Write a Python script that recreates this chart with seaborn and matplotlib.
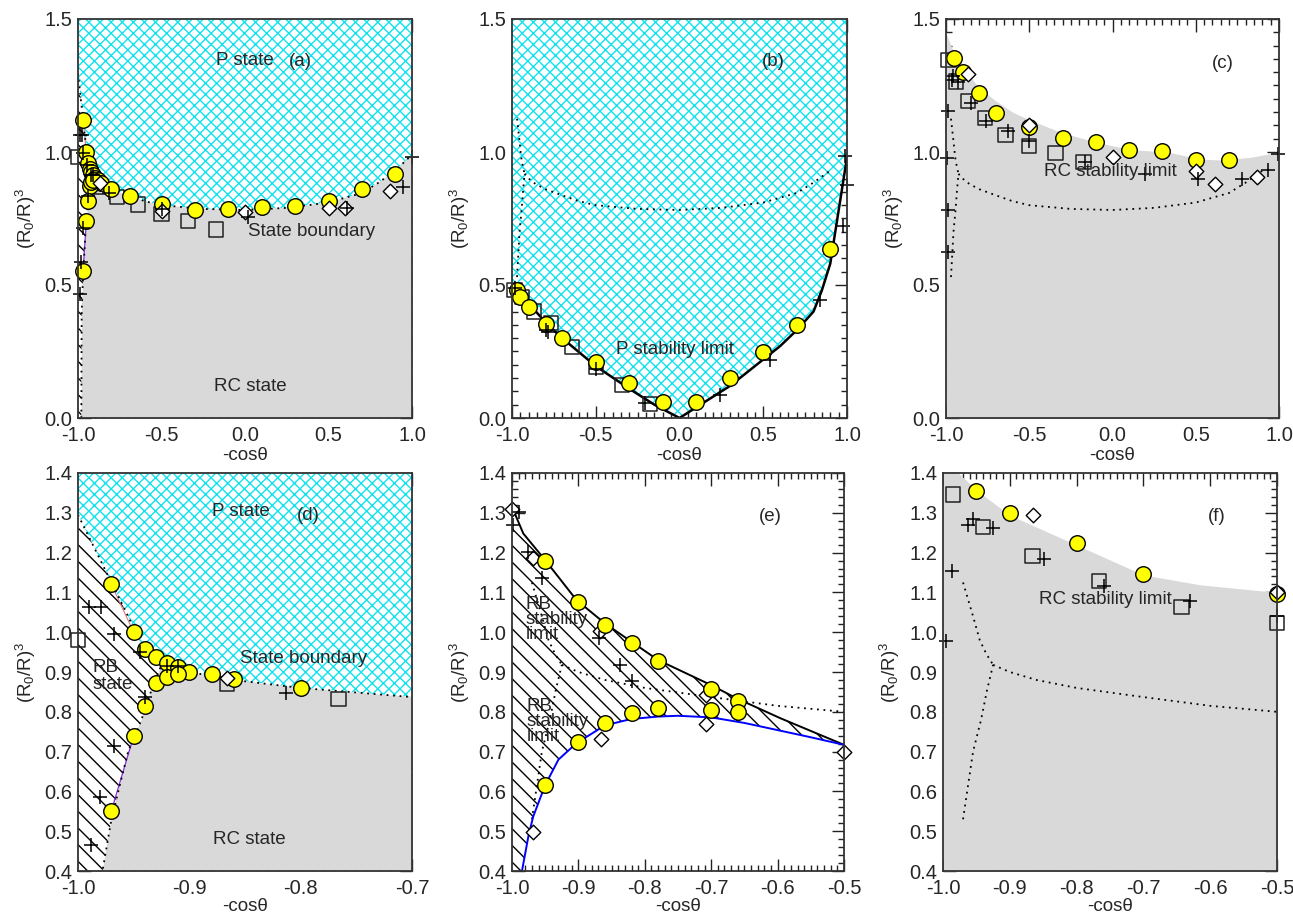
import numpy as np
import matplotlib
matplotlib.use("Agg")
import matplotlib.pyplot as plt
import seaborn as sns
from matplotlib.ticker import MultipleLocator, FormatStrFormatter

# ---------------- data ----------------
# state boundaries (panels a, d) ; drawn dotted in the other panels
rbp_x = [-1.0, -0.985, -0.97, -0.955, -0.945, -0.935, -0.925]
rbp_y = [1.295, 1.21, 1.125, 1.04, 0.98, 0.945, 0.918]
rbrc_x = [-0.98, -0.978, -0.97, -0.955, -0.943, -0.934, -0.925]
rbrc_y = [0.0, 0.40, 0.53, 0.70, 0.78, 0.855, 0.918]
prc_x = [-0.925, -0.9, -0.86, -0.8, -0.7, -0.6, -0.5, -0.25, 0.0, 0.25, 0.5, 0.7, 0.8, 0.9, 1.0]
prc_y = [0.918, 0.90, 0.88, 0.86, 0.837, 0.815, 0.80, 0.786, 0.782, 0.79, 0.81, 0.846, 0.885, 0.93, 0.99]

# state boundary simulation points (a, d)
sb_circ_x = [-0.97, -0.95, -0.94, -0.93, -0.92, -0.91, -0.90, -0.88, -0.86, -0.93, -0.92, -0.91,
             -0.94, -0.95, -0.97, -0.80, -0.69, -0.50, -0.30, -0.10, 0.10, 0.30, 0.50, 0.70, 0.90]
sb_circ_y = [1.12, 1.00, 0.958, 0.937, 0.923, 0.913, 0.901, 0.895, 0.882, 0.873, 0.887, 0.894,
             0.815, 0.739, 0.551, 0.861, 0.835, 0.805, 0.782, 0.786, 0.792, 0.798, 0.817, 0.861, 0.917]
sb_sq_x = [-1.0, -0.866, -0.766, -0.643, -0.5, -0.342, -0.174]
sb_sq_y = [0.98, 0.87, 0.832, 0.803, 0.766, 0.742, 0.709]
sb_dia_x = [-0.866, -0.5, 0.0, 0.5, 0.6, 0.866]
sb_dia_y = [0.885, 0.78, 0.773, 0.788, 0.788, 0.855]
sb_plus_x = [-0.99, -0.979, -0.968, -0.944, -0.94, -0.968, -0.98, -0.988, -0.92, -0.91,
             -0.813, -0.5, 0.017, 0.61, 0.948, 1.0]
sb_plus_y = [1.064, 1.064, 0.995, 0.95, 0.836, 0.715, 0.587, 0.465, 0.915, 0.915,
             0.847, 0.785, 0.757, 0.788, 0.867, 0.98]
red_x = [-0.97, -0.95]
red_y = [1.12, 1.00]
purple_x = [-0.97, -0.95]
purple_y = [0.551, 0.739]

# P stability limit (b)
pl_x = [-1.0, -0.9, -0.8, -0.7, -0.5, -0.3, -0.15, 0.0, 0.1, 0.2, 0.3, 0.5, 0.6, 0.7, 0.8, 0.85, 0.9, 0.95, 1.0]
pl_y = [0.50, 0.43, 0.36, 0.30, 0.195, 0.11, 0.05, 0.0, 0.04, 0.08, 0.12, 0.22, 0.27, 0.33, 0.40, 0.48, 0.58, 0.78, 0.98]
pl_circ_x = [-0.97, -0.95, -0.9, -0.8, -0.7, -0.5, -0.3, -0.1, 0.1, 0.3, 0.5, 0.7, 0.9]
pl_circ_y = [0.48, 0.455, 0.418, 0.352, 0.30, 0.212, 0.13, 0.061, 0.061, 0.149, 0.249, 0.35, 0.634]
pl_sq_x = [-0.985, -0.94, -0.87, -0.766, -0.643, -0.5, -0.342, -0.174]
pl_sq_y = [0.48, 0.456, 0.40, 0.356, 0.268, 0.193, 0.124, 0.053]
pl_plus_x = [-0.98, -0.8, -0.783, -0.5, -0.206, 0.242, 0.54, 0.84, 0.975, 1.0, 0.988]
pl_plus_y = [0.49, 0.33, 0.325, 0.186, 0.055, 0.086, 0.218, 0.444, 0.72, 0.876, 0.985]

# RC stability limit (c, f)
rc_top_c_x = [-1.0, -0.95, -0.876, -0.8, -0.696, -0.6, -0.496, -0.297, -0.075, 0.126, 0.33, 0.53, 0.65, 0.83, 1.0]
rc_top_c_y = [1.446, 1.37, 1.30, 1.24, 1.19, 1.15, 1.12, 1.071, 1.033, 1.008, 1.0, 0.973, 0.97, 0.98, 1.0]
rc_top_f_x = [-1.0, -0.977, -0.95, -0.9, -0.8, -0.7, -0.615, -0.5]
rc_top_f_y = [1.44, 1.40, 1.357, 1.294, 1.219, 1.144, 1.119, 1.10]
rc_circ_x = [-0.95, -0.9, -0.8, -0.7, -0.5, -0.3, -0.1, 0.1, 0.3, 0.5, 0.7]
rc_circ_y = [1.355, 1.30, 1.223, 1.147, 1.095, 1.051, 1.039, 1.008, 1.005, 0.97, 0.97]
rc_sq_x = [-0.985, -0.94, -0.866, -0.766, -0.643, -0.5, -0.342, -0.174]
rc_sq_y = [1.346, 1.265, 1.191, 1.129, 1.063, 1.024, 0.995, 0.961]
rc_dia_x = [-0.866, -0.5, 0.0, 0.5, 0.616, 0.866]
rc_dia_y = [1.294, 1.10, 0.98, 0.93, 0.88, 0.905]
rc_plus_x = [-0.995, -0.987, -0.962, -0.955, -0.925, -0.849, -0.759, -0.63, -0.5,
             -0.165, 0.195, 0.515, 0.776, 0.936, 0.996]
rc_plus_y = [0.978, 1.154, 1.269, 1.285, 1.263, 1.184, 1.116, 1.078, 1.04,
             0.964, 0.918, 0.90, 0.90, 0.933, 0.993]
rc_plus_c_extra_x = [-0.986, -0.986]
rc_plus_c_extra_y = [0.782, 0.625]

# RB stability limits (e)
rb_up_x = [-1.0, -0.983, -0.95, -0.903, -0.86, -0.82, -0.78, -0.70, -0.662, -0.596, -0.5]
rb_up_y = [1.315, 1.248, 1.181, 1.081, 1.022, 0.976, 0.93, 0.867, 0.834, 0.784, 0.717]
rb_lo_x = [-0.985, -0.975, -0.968, -0.95, -0.93, -0.903, -0.86, -0.82, -0.78, -0.75, -0.70, -0.65, -0.60, -0.55, -0.5]
rb_lo_y = [0.40, 0.49, 0.537, 0.616, 0.68, 0.721, 0.766, 0.782, 0.788, 0.790, 0.786, 0.772, 0.754, 0.736, 0.717]
rb_circ_x = [-0.95, -0.9, -0.86, -0.82, -0.78, -0.70, -0.66, -0.66, -0.70, -0.78, -0.82, -0.86, -0.90, -0.95]
rb_circ_y = [1.179, 1.077, 1.018, 0.974, 0.928, 0.857, 0.827, 0.80, 0.805, 0.809, 0.796, 0.773, 0.725, 0.616]
rb_dia_x = [-1.0, -0.968, -0.867, -0.708, -0.708, -0.866, -0.968, -0.5]
rb_dia_y = [1.309, 1.186, 1.004, 0.842, 0.769, 0.731, 0.499, 0.698]
rb_plus_x = [-0.99, -0.998, -0.976, -0.955, -0.869, -0.837, -0.82]
rb_plus_y = [1.303, 1.27, 1.202, 1.135, 0.985, 0.918, 0.878]

# ---------------- style ----------------
sns.set_style("ticks")
plt.rcParams["font.family"] = ["Liberation Sans", "DejaVu Sans"]
plt.rcParams["mathtext.fontset"] = "custom"
plt.rcParams["mathtext.rm"] = "Liberation Sans"
plt.rcParams["mathtext.it"] = "Liberation Sans"
plt.rcParams["mathtext.default"] = "regular"
plt.rcParams["axes.unicode_minus"] = False
plt.rcParams["hatch.linewidth"] = 1.0

CYAN = "#12e2ee"
GRAY = "#d9d9d9"
FS = 13.5
TFS = 14.5

fig = plt.figure(figsize=(12.93, 9.13), dpi=100)
W, H = 1293.0, 913.0


def mkax(l, r, t, b):
    return fig.add_axes([l / W, 1 - b / H, (r - l) / W, (b - t) / H])


ax_a = mkax(78, 412, 19, 418)
ax_b = mkax(512, 847, 19, 418)
ax_c = mkax(946, 1279, 19, 418)
ax_d = mkax(78, 412, 473, 871)
ax_e = mkax(512, 844, 473, 871)
ax_f = mkax(943, 1277, 473, 871)


def style(ax, xlim, ylim, xmaj, xmin, ymaj, ymin, xpad, lpad):
    ax.set_xlim(xlim)
    ax.set_ylim(ylim)
    ax.xaxis.set_major_locator(MultipleLocator(xmaj))
    ax.xaxis.set_minor_locator(MultipleLocator(xmin))
    ax.yaxis.set_major_locator(MultipleLocator(ymaj))
    ax.yaxis.set_minor_locator(MultipleLocator(ymin))
    ax.xaxis.set_major_formatter(FormatStrFormatter("%.1f"))
    ax.yaxis.set_major_formatter(FormatStrFormatter("%.1f"))
    ax.tick_params(which="both", direction="in", top=True, right=True, width=1.0,
                   color="#222222", labelsize=TFS)
    ax.tick_params(axis="x", which="both", pad=xpad)
    ax.tick_params(axis="y", which="both", pad=4)
    ax.tick_params(which="major", length=9)
    ax.tick_params(which="minor", length=4.5)
    for s in ax.spines.values():
        s.set_linewidth(1.3)
        s.set_color("#333333")
        s.set_zorder(20)
    ax.set_xlabel("-cos\u03b8", fontsize=FS, labelpad=lpad)
    ax.set_ylabel(r"(R$_0$/R)$^3$", fontsize=FS, labelpad=5)


TOP = dict(xpad=6, lpad=1.5)
BOT = dict(xpad=5.5, lpad=0.5)


def inside(ax, x, y):
    x = np.asarray(x, float)
    y = np.asarray(y, float)
    x0, x1 = ax.get_xlim()
    y0, y1 = ax.get_ylim()
    tx = 0.012 * (x1 - x0)
    ty = 0.012 * (y1 - y0)
    m = (x >= x0 - tx) & (x <= x1 + tx) & (y >= y0 - ty) & (y <= y1 + ty)
    return x[m], y[m]


def circles(ax, x, y, z=6):
    x, y = inside(ax, x, y)
    sns.scatterplot(x=x, y=y, ax=ax, marker="o", s=125, color="#ffff00",
                    edgecolor="black", linewidth=1.0, zorder=z, clip_on=False, legend=False)


def squares(ax, x, y, z=5):
    x, y = inside(ax, x, y)
    sns.scatterplot(x=x, y=y, ax=ax, marker="s", s=105, facecolor="none",
                    edgecolor="#222222", linewidth=1.1, zorder=z, clip_on=False, legend=False)


def diamonds(ax, x, y, z=7):
    x, y = inside(ax, x, y)
    sns.scatterplot(x=x, y=y, ax=ax, marker="D", s=55, facecolor="white",
                    edgecolor="black", linewidth=1.0, zorder=z, clip_on=False, legend=False)


def pluses(ax, x, y, z=8):
    x, y = inside(ax, x, y)
    sns.scatterplot(x=x, y=y, ax=ax, marker="+", s=100, color="black",
                    linewidth=1.1, zorder=z, clip_on=False, legend=False)


def line(ax, x, y, **kw):
    sns.lineplot(x=x, y=y, ax=ax, sort=False, estimator=None, legend=False, **kw)


DOT = dict(color="black", linewidth=1.3, linestyle=(0, (1, 2.6)), zorder=4)


def state_regions(ax):
    # P state (cyan cross hatch)
    px = rbp_x + prc_x[1:] + [1.0, -1.0]
    py = rbp_y + prc_y[1:] + [1.5, 1.5]
    ax.fill(px, py, facecolor="white", edgecolor=CYAN, hatch="xxx", linewidth=0, zorder=1)
    # RC state (gray)
    cx = rbrc_x + prc_x[1:] + [1.0]
    cy = rbrc_y + prc_y[1:] + [0.0]
    ax.fill(cx, cy, facecolor=GRAY, edgecolor="none", linewidth=0, zorder=1)
    # RB state (black hatch)
    bx = [-1.0] + rbrc_x + rbp_x[-2::-1]
    by = [0.0] + rbrc_y + rbp_y[-2::-1]
    ax.fill(bx, by, facecolor="white", edgecolor="black", hatch="\\\\", linewidth=0, zorder=1)
    line(ax, rbp_x, rbp_y, **DOT)
    line(ax, rbrc_x, rbrc_y, **DOT)
    line(ax, prc_x, prc_y, **DOT)
    line(ax, red_x, red_y, color="#e07a7a", linewidth=0.8, zorder=3)
    line(ax, purple_x, purple_y, color="#8a2be2", linewidth=0.9, zorder=3)


def dotted_overlay(ax, xmax):
    line(ax, rbp_x[2:], rbp_y[2:], **DOT)
    line(ax, rbrc_x[2:], rbrc_y[2:], **DOT)
    px = [v for v in prc_x if v <= xmax]
    py = prc_y[:len(px)]
    line(ax, px, py, **DOT)


def state_points(ax):
    squares(ax, sb_sq_x, sb_sq_y)
    circles(ax, sb_circ_x, sb_circ_y)
    diamonds(ax, sb_dia_x, sb_dia_y)
    pluses(ax, sb_plus_x, sb_plus_y)


# ---------------- (a) ----------------
style(ax_a, (-1.0, 1.0), (0.0, 1.5), 0.5, 0.05, 0.5, 0.05, **TOP)
state_regions(ax_a)
state_points(ax_a)
ax_a.text(0.0, 1.345, "P state", ha="center", va="center", fontsize=FS, zorder=10)
ax_a.text(0.33, 1.34, "(a)", ha="center", va="center", fontsize=FS, zorder=10)
ax_a.text(0.40, 0.70, "State boundary", ha="center", va="center", fontsize=FS, zorder=10)
ax_a.text(0.03, 0.118, "RC state", ha="center", va="center", fontsize=FS, zorder=10)

# ---------------- (b) ----------------
style(ax_b, (-1.0, 1.0), (0.0, 1.5), 0.5, 0.05, 0.5, 0.05, **TOP)
ax_b.fill_between(pl_x, pl_y, 1.5, facecolor="white", edgecolor=CYAN, hatch="xxx",
                  linewidth=0, zorder=1)
line(ax_b, pl_x, pl_y, color="black", linewidth=1.8, zorder=4)
dotted_overlay(ax_b, 0.9)
squares(ax_b, pl_sq_x, pl_sq_y)
circles(ax_b, pl_circ_x, pl_circ_y)
pluses(ax_b, pl_plus_x, pl_plus_y)
ax_b.text(0.56, 1.34, "(b)", ha="center", va="center", fontsize=FS, zorder=10)
ax_b.text(-0.03, 0.256, "P stability limit", ha="center", va="center", fontsize=FS, zorder=10)

# ---------------- (c) ----------------
style(ax_c, (-1.0, 1.0), (0.0, 1.5), 0.5, 0.05, 0.5, 0.05, **TOP)
ax_c.fill_between(rc_top_c_x, 0.0, rc_top_c_y, color=GRAY, linewidth=0, zorder=1)
dotted_overlay(ax_c, 0.9)
squares(ax_c, rc_sq_x, rc_sq_y)
circles(ax_c, rc_circ_x, rc_circ_y)
diamonds(ax_c, rc_dia_x, rc_dia_y)
pluses(ax_c, rc_plus_x + rc_plus_c_extra_x, rc_plus_y + rc_plus_c_extra_y)
ax_c.text(0.66, 1.333, "(c)", ha="center", va="center", fontsize=FS, zorder=10)
ax_c.text(-0.01, 0.926, "RC stability limit", ha="center", va="center", fontsize=FS, zorder=10)

# ---------------- (d) ----------------
style(ax_d, (-1.0, -0.7), (0.4, 1.4), 0.1, 0.01, 0.1, 0.02, **BOT)
state_regions(ax_d)
state_points(ax_d)
ax_d.text(-0.854, 1.303, "P state", ha="center", va="center", fontsize=FS, zorder=10)
ax_d.text(-0.793, 1.294, "(d)", ha="center", va="center", fontsize=FS, zorder=10)
ax_d.text(-0.797, 0.933, "State boundary", ha="center", va="center", fontsize=FS, zorder=10)
ax_d.text(-0.987, 0.89, "RB\nstate", ha="left", va="center", fontsize=FS, zorder=10,
          linespacing=1.05)
ax_d.text(-0.846, 0.478, "RC state", ha="center", va="center", fontsize=FS, zorder=10)

# ---------------- (e) ----------------
style(ax_e, (-1.0, -0.5), (0.4, 1.4), 0.1, 0.01, 0.1, 0.02, **BOT)
lo_x = [-1.0] + rb_lo_x
lo_y = [0.4] + rb_lo_y
up_on_lo = np.interp(lo_x, rb_up_x, rb_up_y)
ax_e.fill_between(lo_x, lo_y, up_on_lo, facecolor="white", edgecolor="black",
                  hatch="\\\\", linewidth=0, zorder=1)
dotted_overlay(ax_e, 1.0)
line(ax_e, rb_up_x, rb_up_y, color="black", linewidth=1.4, zorder=4)
line(ax_e, rb_lo_x, rb_lo_y, color="#0000ff", linewidth=1.4, zorder=4)
diamonds(ax_e, rb_dia_x, rb_dia_y, z=5)
circles(ax_e, rb_circ_x, rb_circ_y)
pluses(ax_e, rb_plus_x, rb_plus_y)
ax_e.text(-0.611, 1.29, "(e)", ha="center", va="center", fontsize=FS, zorder=10)
ax_e.text(-0.98, 1.033, "RB\nstability\nlimit", ha="left", va="center", fontsize=FS,
          zorder=10, linespacing=0.85)
ax_e.text(-0.978, 0.775, "RB\nstability\nlimit", ha="left", va="center", fontsize=FS,
          zorder=10, linespacing=0.85)

# ---------------- (f) ----------------
style(ax_f, (-1.0, -0.5), (0.4, 1.4), 0.1, 0.01, 0.1, 0.02, **BOT)
ax_f.fill_between(rc_top_f_x, 0.4, rc_top_f_y, color=GRAY, linewidth=0, zorder=1)
dotted_overlay(ax_f, 1.0)
squares(ax_f, rc_sq_x, rc_sq_y)
circles(ax_f, rc_circ_x, rc_circ_y)
diamonds(ax_f, rc_dia_x, rc_dia_y)
pluses(ax_f, rc_plus_x, rc_plus_y)
ax_f.text(-0.59, 1.29, "(f)", ha="center", va="center", fontsize=FS, zorder=10)
ax_f.text(-0.757, 1.081, "RC stability limit", ha="center", va="center", fontsize=FS, zorder=10)

fig.savefig("out.png", dpi=100)
